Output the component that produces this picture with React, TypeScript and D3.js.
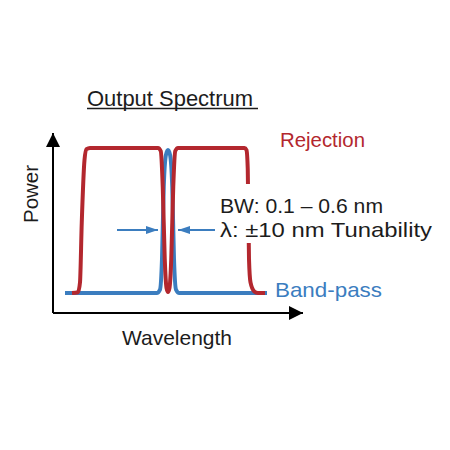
import React from "react";
import * as d3 from "d3";

// normalised wavelength (0-100) vs power (0-1)
const rejectionWl = [7.6, 10, 10.8, 11.5, 12.6, 13.4, 14.8, 42, 43.1, 43.9, 44.7, 45.4, 46, 46.6, 47.3, 48.1, 48.9, 50, 76.6, 77.4, 77.9, 78.4, 79, 80.5, 82, 84.8];
const rejectionPw = [0.111, 0.115, 0.17, 0.5, 0.85, 0.91, 0.917, 0.917, 0.9, 0.7, 0.3, 0.14, 0.117, 0.14, 0.3, 0.7, 0.9, 0.917, 0.917, 0.905, 0.8, 0.3, 0.17, 0.12, 0.111, 0.111];

const bandpassWl = [4.8, 41.5, 42.8, 43.6, 44.3, 45.2, 46, 46.8, 47.7, 48.4, 49.2, 50.5, 85.6];
const bandpassPw = [0.111, 0.111, 0.13, 0.3, 0.7, 0.88, 0.905, 0.88, 0.7, 0.3, 0.13, 0.111, 0.111];

// bandwidth marker arrows: [tail, tip]
const bwArrowLeft = [25.6, 42];
const bwArrowRight = [64.8, 50];
const bwArrowPw = 0.461;

const labels = {
  title: "Output Spectrum",
  xLabel: "Wavelength",
  yLabel: "Power",
  rejection: "Rejection",
  bandpass: "Band-pass",
  bw: "BW: 0.1 – 0.6 nm",
  tune: "λ: ±10 nm Tunability",
};

const RED = "#b3272e";
const BLUE = "#3b7dbf";
const INK = "#1c1c1c";
const FONT = "'Liberation Sans', Arial, sans-serif";

const App: React.FunctionComponent = () => {
  const x = d3.scaleLinear().domain([0, 100]).range([53, 303]);
  const y = d3.scaleLinear().domain([0, 1]).range([313, 133]);

  const line = d3
    .line<[number, number]>()
    .x((d) => x(d[0]))
    .y((d) => y(d[1]))
    .curve(d3.curveMonotoneX);

  const rejection = rejectionWl.map((w, i) => [w, rejectionPw[i]] as [number, number]);
  const bandpass = bandpassWl.map((w, i) => [w, bandpassPw[i]] as [number, number]);

  return (
    <svg width={450} height={450} style={{ position: "absolute", left: 0, top: 0, background: "#fff" }} fontFamily={FONT}>
      <defs>
        <marker id="axisHead" viewBox="0 0 10 10" refX="10" refY="5" markerWidth="7" markerHeight="7" markerUnits="strokeWidth" orient="auto">
          <path d="M0,0 L10,5 L0,10 z" fill="#000" />
        </marker>
        <marker id="bwHead" viewBox="0 0 12 8" refX="12" refY="4" markerWidth="12" markerHeight="8" markerUnits="userSpaceOnUse" orient="auto">
          <path d="M0,0 L12,4 L0,8 z" fill={BLUE} />
        </marker>
      </defs>

      {/* axes */}
      <line x1={x(0)} y1={y(0)} x2={x(0)} y2={y(1)} stroke="#000" strokeWidth={2} markerEnd="url(#axisHead)" />
      <line x1={x(0)} y1={y(0)} x2={x(100)} y2={y(0)} stroke="#000" strokeWidth={2} markerEnd="url(#axisHead)" />

      {/* spectra */}
      <path d={line(bandpass) ?? ""} fill="none" stroke={BLUE} strokeWidth={4} />
      <path d={line(rejection) ?? ""} fill="none" stroke={RED} strokeWidth={4} />

      {/* bandwidth arrows */}
      <line x1={x(bwArrowLeft[0])} y1={y(bwArrowPw)} x2={x(bwArrowLeft[1])} y2={y(bwArrowPw)} stroke={BLUE} strokeWidth={2} markerEnd="url(#bwHead)" />
      <line x1={x(bwArrowRight[0])} y1={y(bwArrowPw)} x2={x(bwArrowRight[1])} y2={y(bwArrowPw)} stroke={BLUE} strokeWidth={2} markerEnd="url(#bwHead)" />

      {/* annotation box */}
      <rect x={216} y={184} width={222} height={59} fill="#fff" />
      <text x={220} y={213} fontSize={21} fill={INK} textLength={163} lengthAdjust="spacingAndGlyphs">{labels.bw}</text>
      <text x={220} y={237} fontSize={21} fill={INK} textLength={212} lengthAdjust="spacingAndGlyphs">{labels.tune}</text>

      {/* title */}
      <text x={87} y={105.5} fontSize={22} fill={INK} textLength={166} lengthAdjust="spacingAndGlyphs">{labels.title}</text>
      <line x1={87} y1={108.5} x2={258} y2={108.5} stroke={INK} strokeWidth={1.6} />

      {/* series labels */}
      <text x={280} y={146.5} fontSize={20.5} fill={RED} textLength={85} lengthAdjust="spacingAndGlyphs">{labels.rejection}</text>
      <text x={275} y={297} fontSize={21} fill={BLUE} textLength={107} lengthAdjust="spacingAndGlyphs">{labels.bandpass}</text>

      {/* axis labels */}
      <text x={122} y={345} fontSize={21} fill={INK} textLength={110} lengthAdjust="spacingAndGlyphs">{labels.xLabel}</text>
      <text transform="translate(38,223) rotate(-90)" fontSize={20.5} fill={INK} textLength={58} lengthAdjust="spacingAndGlyphs">{labels.yLabel}</text>
    </svg>
  );
};

export default App;
